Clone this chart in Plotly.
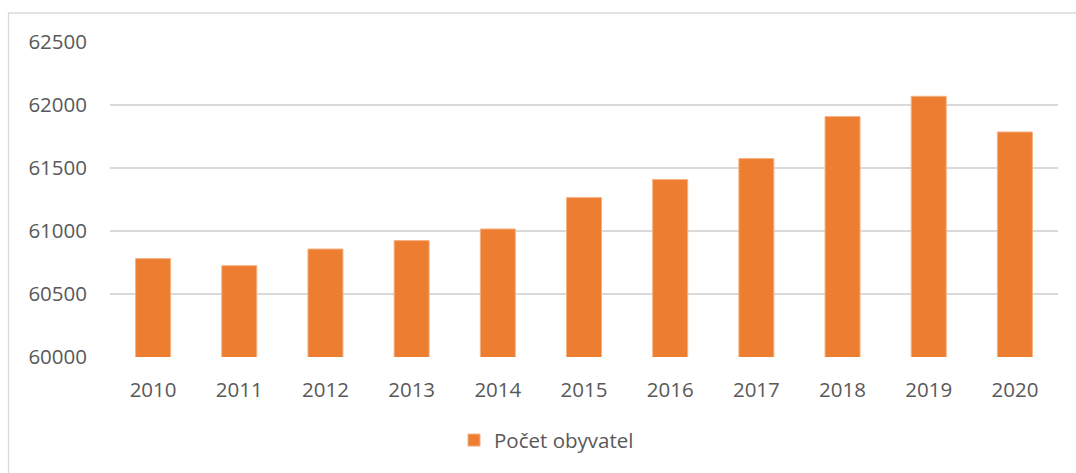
import plotly.graph_objects as go

years = ["2010", "2011", "2012", "2013", "2014", "2015", "2016", "2017", "2018", "2019", "2020"]
population = [60781, 60725, 60857, 60924, 61016, 61265, 61408, 61575, 61908, 62069, 61786]
series_name = "Počet obyvatel"
y_ticks = [60000, 60500, 61000, 61500, 62000, 62500]

W, H = 1076, 473
L, R, T, B = 110, 18, 41.5, 116.3
plot_w = W - L - R
plot_h = H - T - B

font = dict(family="Open Sans, Liberation Sans, sans-serif", size=20.5, color="#595959")

fig = go.Figure()
fig.add_trace(go.Bar(
    x=years, y=population, name=series_name,
    marker=dict(color="#ED7D31", line=dict(color="#F4B183", width=1)),
))

def px_to_paper_x(px):
    return (px - L) / plot_w

def px_to_paper_y(py):
    return (H - B - py) / plot_h

fig.add_shape(type="rect", xref="paper", yref="paper",
              x0=px_to_paper_x(8.5), x1=px_to_paper_x(1090),
              y0=px_to_paper_y(490), y1=px_to_paper_y(12.5),
              line=dict(color="#D9D9D9", width=1.3), fillcolor="rgba(0,0,0,0)", layer="below")

fig.update_layout(
    width=W, height=H,
    margin=dict(l=L, r=R, t=T, b=B, pad=0),
    paper_bgcolor="white", plot_bgcolor="white",
    font=font,
    bargap=0.594,
    showlegend=True,
    legend=dict(orientation="h", x=px_to_paper_x(454), xanchor="left",
                y=px_to_paper_y(440), yanchor="middle", font=font,
                bgcolor="rgba(0,0,0,0)"),
    xaxis=dict(type="category", showgrid=False, showline=False, ticks="",
               ticklabelstandoff=18, tickfont=font, zeroline=False),
    yaxis=dict(range=[60000, 62500], tickvals=y_ticks, ticktext=[str(v) for v in y_ticks],
               showgrid=True, gridcolor="#D9D9D9", gridwidth=1.6, zeroline=False,
               showline=False, ticks="", ticklabelstandoff=22, tickfont=font),
)

fig.write_html("out.html", config={"displayModeBar": False},
               post_script="document.body.style.margin='0';document.body.style.overflow='hidden';")
